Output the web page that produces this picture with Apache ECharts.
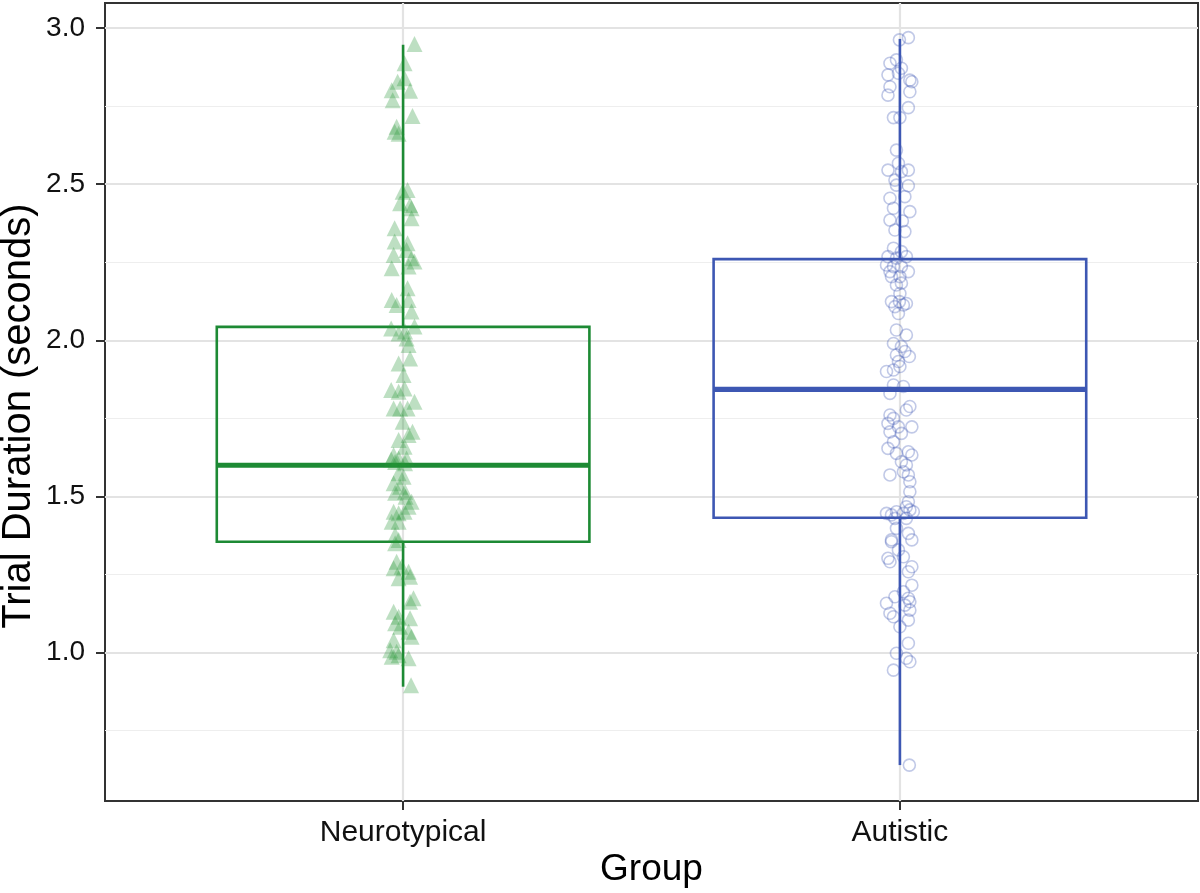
<!DOCTYPE html>
<html>
<head>
<meta charset="utf-8">
<script src="https://cdn.jsdelivr.net/npm/echarts@6/dist/echarts.min.js"></script>
<style>html,body{margin:0;padding:0;background:#fff}#c{width:1200px;height:893px}</style>
</head>
<body>
<div id="c"></div>
<script>
// ---- data ----
const categories = ['Neurotypical', 'Autistic'];
const yTicks = [1.0, 1.5, 2.0, 2.5, 3.0];
const yMinorGrid = [0.75, 1.25, 1.75, 2.25, 2.75];
// box stats: [lower whisker, Q1, median, Q3, upper whisker]
const ntBox = [0.891, 1.355, 1.600, 2.043, 2.946];
const auBox = [0.640, 1.432, 1.843, 2.260, 2.965];
// jittered points: horizontal jitter (thousandths of a category) and trial duration (s)
const ntJitter = [23,3,-11,3,-23,14,-21,19,-13,-17,-9,-1,9,-6,14,17,17,-17,-17,9,7,-19,17,23,11,-23,9,-23,-13,11,17,-24,4,23,-9,7,11,14,-9,1,-24,-9,3,-19,-6,23,9,-1,19,11,-9,3,-19,-9,7,-24,-16,4,-9,1,-19,-6,4,-16,17,5,11,-19,-9,3,-23,-9,-16,-9,-16,-13,-19,-3,11,-9,14,21,14,-19,-9,14,-16,-6,11,17,-19,-26,-13,-23,-9,11,16];
const ntValues = [2.949,2.887,2.828,2.839,2.801,2.799,2.769,2.718,2.684,2.668,2.661,2.476,2.481,2.439,2.433,2.423,2.391,2.359,2.316,2.311,2.289,2.273,2.263,2.252,2.236,2.231,2.167,2.129,2.113,2.129,2.092,2.038,2.028,2.044,2.022,2.006,1.985,1.942,1.926,1.889,1.841,1.835,1.846,1.782,1.782,1.803,1.782,1.739,1.707,1.697,1.681,1.659,1.633,1.622,1.622,1.618,1.610,1.606,1.574,1.563,1.542,1.531,1.515,1.512,1.483,1.499,1.467,1.451,1.446,1.451,1.419,1.419,1.377,1.361,1.350,1.291,1.270,1.275,1.259,1.238,1.243,1.174,1.163,1.131,1.115,1.110,1.094,1.083,1.067,1.051,1.040,1.008,1.003,0.987,0.992,0.982,0.896];
const auJitter = [17,-1,-20,-7,3,-24,-3,20,24,-20,20,-24,17,-13,0,-7,-3,-24,17,3,-10,-7,17,-20,10,-13,20,-20,5,-10,10,-13,3,-24,-7,13,-27,-13,-20,3,17,-17,0,3,-7,0,-17,-1,13,-10,7,-3,-7,13,-13,3,10,19,-7,-3,0,-27,-13,-13,7,-20,20,13,-20,-13,-24,-3,24,-20,3,-13,-24,-7,17,24,3,13,7,-20,17,20,20,17,13,20,-27,-17,-7,7,27,-10,13,-7,-17,24,17,-17,-3,-24,-20,7,24,17,24,7,-10,17,-27,20,10,-20,-13,20,17,0,17,-7,13,20,-13,19];
const auValues = [2.969,2.962,2.887,2.898,2.871,2.850,2.855,2.833,2.828,2.812,2.796,2.785,2.745,2.713,2.713,2.609,2.567,2.545,2.545,2.540,2.513,2.497,2.495,2.455,2.460,2.423,2.412,2.385,2.382,2.353,2.348,2.295,2.284,2.268,2.263,2.268,2.241,2.236,2.220,2.236,2.220,2.204,2.204,2.183,2.177,2.150,2.124,2.124,2.118,2.108,2.113,2.086,2.033,2.017,1.990,1.980,1.964,1.948,1.953,1.932,1.916,1.900,1.905,1.857,1.852,1.830,1.788,1.777,1.761,1.750,1.734,1.723,1.723,1.707,1.702,1.675,1.654,1.638,1.643,1.633,1.611,1.601,1.579,1.569,1.569,1.547,1.515,1.483,1.467,1.457,1.446,1.441,1.451,1.446,1.451,1.430,1.430,1.398,1.361,1.361,1.382,1.355,1.329,1.302,1.291,1.307,1.275,1.259,1.216,1.195,1.179,1.174,1.158,1.163,1.152,1.126,1.115,1.136,1.104,1.083,1.030,0.998,0.982,0.971,0.944,0.640];

// ---- build ----
const FONT = 'Arial, "Liberation Sans", sans-serif';
const GREEN = '#1d8a34';
const BLUE = '#3d57b3';
const BOX_W = 0.75;

function pts(center, jit, vals) {
  return vals.map((v, i) => [center + jit[i] / 1000, v]);
}

function boxSeries(center, stats, color) {
  return {
    type: 'custom',
    z: 2,
    silent: true,
    data: [[center].concat(stats)],
    renderItem: function (params, api) {
      const x = api.value(0);
      const pMin = api.coord([x, api.value(1)]);
      const pQ1 = api.coord([x, api.value(2)]);
      const pMed = api.coord([x, api.value(3)]);
      const pQ3 = api.coord([x, api.value(4)]);
      const pMax = api.coord([x, api.value(5)]);
      const hw = api.size([BOX_W, 0])[0] / 2;
      const cx = pMed[0];
      return {
        type: 'group',
        children: [
          { type: 'line', shape: { x1: cx, y1: pQ3[1], x2: cx, y2: pMax[1] }, style: { stroke: color, lineWidth: 2.6 } },
          { type: 'line', shape: { x1: cx, y1: pQ1[1], x2: cx, y2: pMin[1] }, style: { stroke: color, lineWidth: 2.6 } },
          { type: 'rect', shape: { x: cx - hw, y: pQ3[1], width: 2 * hw, height: pQ1[1] - pQ3[1] }, style: { fill: 'none', stroke: color, lineWidth: 2.6 } },
          { type: 'line', shape: { x1: cx - hw, y1: pMed[1], x2: cx + hw, y2: pMed[1] }, style: { stroke: color, lineWidth: 5.2 } }
        ]
      };
    }
  };
}

const chart = echarts.init(document.getElementById('c'), null, { renderer: 'canvas' });
const gridLines = yTicks.map(v => ({ yAxis: v, lineStyle: { color: '#e3e3e3', width: 2.2, type: 'solid' } }))
  .concat(yMinorGrid.map(v => ({ yAxis: v, lineStyle: { color: '#eeeeee', width: 1.2, type: 'solid' } })))
  .concat(categories.map((c, i) => ({ xAxis: i + 1, lineStyle: { color: '#e3e3e3', width: 2.2, type: 'solid' } })));

chart.setOption({
  animation: false,
  backgroundColor: '#ffffff',
  textStyle: { fontFamily: FONT },
  grid: { left: 105, right: 2, top: 3, bottom: 92, show: true, borderColor: '#333333', borderWidth: 2, backgroundColor: 'transparent', outerBoundsMode: 'none', containLabel: false },
  xAxis: {
    type: 'value', min: 0.4, max: 2.6,
    name: 'Group', nameLocation: 'middle', nameGap: 50, nameMoveOverlap: false,
    nameTextStyle: { fontSize: 37, color: '#000', fontFamily: FONT },
    axisLine: { show: false },
    splitLine: { show: false },
    axisTick: { show: true, customValues: [1, 2], length: 9, lineStyle: { color: '#333', width: 2 } },
    axisLabel: { customValues: [1, 2], formatter: v => categories[Math.round(v) - 1] || '', fontSize: 30, color: '#111', margin: 17, fontFamily: FONT }
  },
  yAxis: {
    type: 'value', min: 0.525, max: 3.08,
    name: 'Trial Duration (seconds)', nameLocation: 'middle', nameGap: 66, nameMoveOverlap: false,
    nameTextStyle: { fontSize: 40, color: '#000', fontFamily: FONT, padding: [0, 28, 0, 0] },
    axisLine: { show: false },
    splitLine: { show: false },
    axisTick: { show: true, customValues: yTicks, length: 9, lineStyle: { color: '#333', width: 2 } },
    axisLabel: { customValues: yTicks, formatter: v => v.toFixed(1), fontSize: 28, color: '#111', margin: 20, fontFamily: FONT }
  },
  series: [
    {
      type: 'line', data: [], z: 1, silent: true,
      markLine: { silent: true, symbol: 'none', label: { show: false }, data: gridLines, animation: false, z: 1 }
    },
    boxSeries(1, ntBox, GREEN),
    boxSeries(2, auBox, BLUE),
    {
      type: 'scatter', z: 3, silent: true,
      symbol: 'triangle', symbolSize: 16,
      itemStyle: { color: 'rgba(40,150,55,0.38)' },
      data: pts(1, ntJitter, ntValues)
    },
    {
      type: 'scatter', z: 3, silent: true,
      symbol: 'circle', symbolSize: 12,
      itemStyle: { color: 'rgba(255,255,255,0)', borderColor: 'rgba(61,87,179,0.4)', borderWidth: 1.6 },
      data: pts(2, auJitter, auValues)
    }
  ]
});
</script>
</body>
</html>
